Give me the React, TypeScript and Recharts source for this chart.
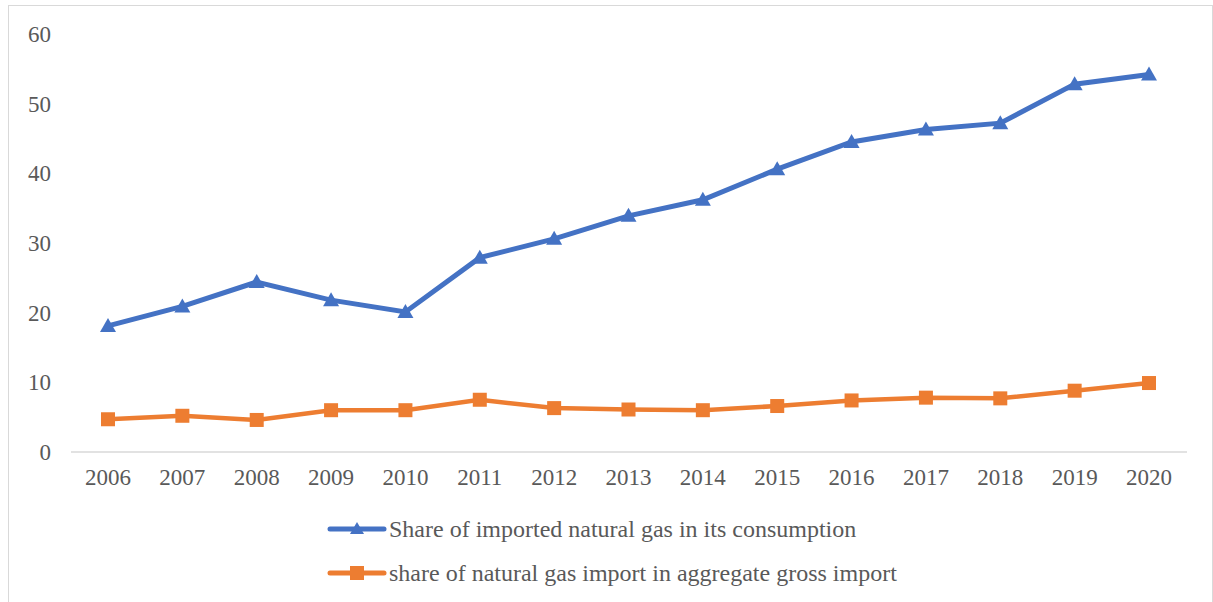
import React from "react";
import { LineChart, Line, XAxis, YAxis, Legend } from "recharts";

// values
const years = ["2006", "2007", "2008", "2009", "2010", "2011", "2012", "2013", "2014", "2015", "2016", "2017", "2018", "2019", "2020"];
const importedShare = [18.1, 20.9, 24.4, 21.8, 20.1, 27.9, 30.6, 33.9, 36.2, 40.6, 44.5, 46.3, 47.2, 52.8, 54.2];
const grossImportShare = [4.7, 5.2, 4.6, 6.0, 6.0, 7.5, 6.3, 6.1, 6.0, 6.6, 7.4, 7.8, 7.7, 8.8, 9.9];
const yTicks = [0, 10, 20, 30, 40, 50, 60];

const BLUE = "#4472C4";
const ORANGE = "#ED7D31";
const TEXT = "#595959";
const FONT = "'Liberation Serif', 'Times New Roman', serif";

const SERIES = [
    { key: "imported", name: "Share of imported natural gas in its consumption", color: BLUE, shape: "triangle" },
    { key: "gross", name: "share of natural gas import in aggregate gross import", color: ORANGE, shape: "square" },
];

const data = years.map((year, i) => ({
    year,
    imported: importedShare[i],
    gross: grossImportShare[i],
}));

const Triangle = (props: any) => {
    const { cx, cy, fill } = props;
    if (cx == null || cy == null) return null;
    return <path d={`M${cx},${cy - 8} L${cx + 8},${cy + 6} L${cx - 8},${cy + 6} Z`} fill={fill} />;
};

const Square = (props: any) => {
    const { cx, cy, fill } = props;
    if (cx == null || cy == null) return null;
    return <rect x={cx - 7} y={cy - 7} width={14} height={14} fill={fill} />;
};

// legend drawn like the office style: line segment with marker in the middle
const LegendContent = () => (
    <div style={{ display: "flex", flexDirection: "column", alignItems: "flex-start", marginLeft: 318 }}>
        {SERIES.map((s) => (
            <div key={s.key} style={{ display: "flex", alignItems: "center", height: 44 }}>
                <svg width={60} height={20} style={{ marginRight: 2 }}>
                    <line x1={3} y1={10} x2={57} y2={10} stroke={s.color} strokeWidth={5} strokeLinecap="round" />
                    {s.shape === "triangle" ? (
                        <path d="M30,3 L37,15 L23,15 Z" fill={s.color} />
                    ) : (
                        <rect x={23} y={3} width={14} height={14} fill={s.color} />
                    )}
                </svg>
                <span style={{ fontFamily: FONT, fontSize: 24, color: TEXT, whiteSpace: "nowrap" }}>{s.name}</span>
            </div>
        ))}
    </div>
);

export default function App() {
    return (
        <div
            style={{
                position: "absolute",
                left: 8,
                top: 5,
                width: 1205,
                height: 600,
                border: "1px solid #d9d9d9",
                background: "#fff",
                boxSizing: "border-box",
            }}
        >
            <LineChart width={1203} height={598} data={data} margin={{ top: 28, right: 25, bottom: 10, left: 0 }}>
                <XAxis
                    dataKey="year"
                    axisLine={{ stroke: "#d9d9d9", strokeWidth: 1.5 }}
                    tickLine={false}
                    tick={{ fill: TEXT, fontSize: 23, fontFamily: FONT }}
                    tickMargin={11}
                    height={54}
                    interval={0}
                    padding={{ left: 37, right: 38 }}
                />
                <YAxis
                    domain={[0, 60]}
                    ticks={yTicks}
                    axisLine={false}
                    tickLine={false}
                    tick={{ fill: TEXT, fontSize: 23, fontFamily: FONT }}
                    tickMargin={14}
                    width={62}
                />
                <Legend verticalAlign="bottom" content={<LegendContent />} wrapperStyle={{ bottom: 9 }} />
                <Line
                    dataKey="imported"
                    name={SERIES[0].name}
                    stroke={BLUE}
                    strokeWidth={5}
                    dot={<Triangle fill={BLUE} />}
                    activeDot={false}
                    isAnimationActive={false}
                />
                <Line
                    dataKey="gross"
                    name={SERIES[1].name}
                    stroke={ORANGE}
                    strokeWidth={4.5}
                    dot={<Square fill={ORANGE} />}
                    activeDot={false}
                    isAnimationActive={false}
                />
            </LineChart>
        </div>
    );
}
